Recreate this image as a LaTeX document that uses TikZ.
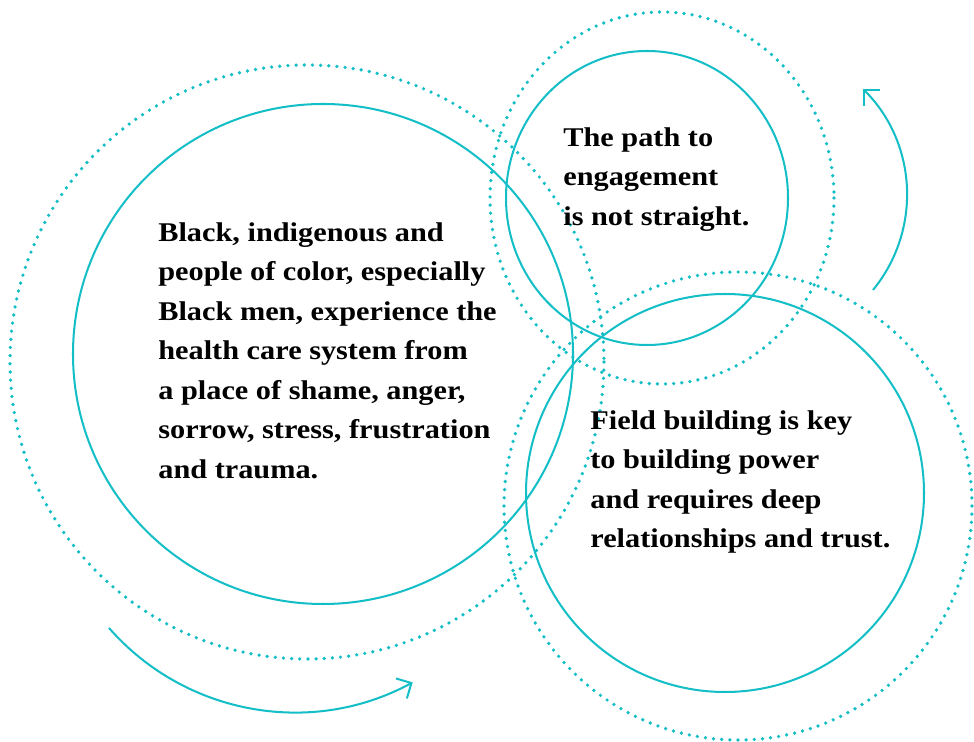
\documentclass[tikz,border=0pt]{standalone}
\usepackage{fontspec}
\usepackage{tikz}
\usetikzlibrary{arrows.meta}
\newfontfamily\notefont{Liberation Serif}[FakeStretch=1.12]
\definecolor{ringteal}{HTML}{14BEC7}
\tikzset{
  ring/.style={draw=ringteal, line width=1.15pt},
  dotring/.style={draw=ringteal, line width=2.1pt, line cap=round,
                  dash pattern=on 0pt off 4.65pt},
  turn/.style={ring, -{Straight Barb[angle=90:8pt 1, line width=1.15pt]}},
  note/.style={inner sep=0pt, anchor=north west, align=left,
               font=\notefont\bfseries\fontsize{15.4}{22.5}\selectfont},
}

\begin{document}
\begin{tikzpicture}[x=0.02cm, y=-0.02cm]
    \useasboundingbox (0,0) rectangle (974,742);
    % left pair
    \coordinate (lc) at (323,354);
    \coordinate (ld) at (307,362);
    \draw[dotring] (ld) circle [radius=297];
    \draw[ring] (lc) circle [radius=250];
    % top right pair
    \coordinate (tc) at (647,198);
    \coordinate (td) at (662,198);
    \draw[dotring] (td) ellipse [x radius=172, y radius=186];
    \draw[ring] (tc) ellipse [x radius=141, y radius=147];
    % bottom right pair
    \coordinate (bc) at (725,493);
    \coordinate (bd) at (738,506);
    \draw[dotring] (bd) circle [radius=234];
    \draw[ring] (bc) circle [radius=199];
    % turning arrows
    \coordinate (upstart) at (873,290);
    \coordinate (lowstart) at (109,628);
    \draw[turn] (upstart) arc [start angle=39.3, end angle=-45, radius=150];
    \draw[turn] (lowstart) arc [start angle=138.8, end angle=61.5, radius=247];
    % texts
    \node[note] (shame) at (158,222) {Black, indigenous and\\people of color, especially\\Black men, experience the\\health care system from\\a place of shame, anger,\\sorrow, stress, frustration\\and trauma.};
    \node[note] (path) at (563,127) {The path to\\engagement\\is not straight.};
    \node[note] (field) at (590,410) {Field building is key\\to building power\\and requires deep\\relationships and trust.};
  \end{tikzpicture}
\end{document}
